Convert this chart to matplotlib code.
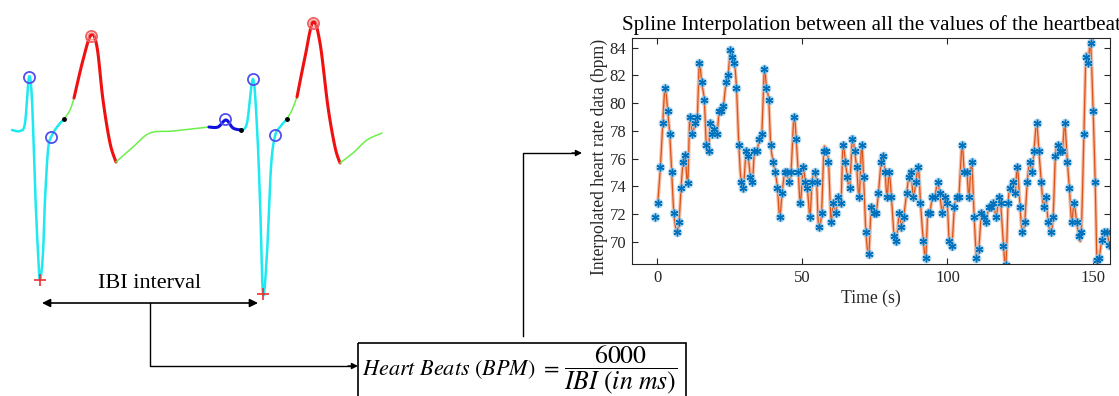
import numpy as np
import matplotlib
matplotlib.use("Agg")
import matplotlib.pyplot as plt
from matplotlib.patches import Rectangle

plt.rcParams['font.family'] = ['Liberation Serif', 'DejaVu Serif']
plt.rcParams['mathtext.fontset'] = 'stix'

# ---- heart rate data ----
time_s = [-0.7, 0.2, 1.1, 1.9, 2.7, 3.6, 4.3, 5.0, 5.7, 6.7, 7.5, 8.2, 8.9, 9.6, 10.5,
          11.2, 12.1, 13.0, 13.8, 14.5, 15.3, 16.2, 16.9, 17.7, 18.2, 18.9, 19.7, 20.6,
          21.3, 22.1, 22.8, 23.7, 24.4, 25.2, 25.9, 26.6, 27.3, 28.1, 28.9, 29.7, 30.6,
          31.3, 32.1, 32.8, 33.5, 34.4, 35.1, 36.0, 36.9, 37.6, 38.4, 39.1, 40.0, 40.7,
          41.4, 42.2, 43.0, 43.9, 44.6, 45.4, 46.1, 47.1, 47.9, 48.6, 49.3, 50.3, 51.0,
          51.7, 52.6, 53.3, 54.2, 54.9, 55.6, 56.6, 57.4, 58.1, 59.0, 59.9, 60.6, 61.5,
          62.3, 63.3, 64.0, 64.8, 65.5, 66.3, 67.2, 68.0, 68.7, 69.6, 70.4, 71.1, 71.9,
          72.9, 73.7, 74.6, 75.4, 76.2, 77.1, 77.8, 78.5, 79.2, 79.9, 80.7, 81.6, 82.4,
          83.4, 84.1, 84.9, 85.9, 86.7, 87.5, 88.2, 89.1, 90.0, 90.7, 91.7, 92.5, 93.2,
          93.9, 94.8, 95.6, 96.6, 97.3, 98.2, 99.0, 99.9, 100.6, 101.5, 102.4, 103.3,
          103.9, 105.0, 105.8, 106.7, 107.4, 108.3, 109.2, 110.0, 110.8, 111.7, 112.5,
          113.3, 114.2, 115.0, 115.8, 116.8, 117.6, 118.3, 119.3, 120.1, 120.9, 121.6,
          122.5, 123.3, 124.1, 125.0, 125.8, 126.6, 127.5, 128.3, 129.1, 129.8, 130.7,
          131.5, 132.3, 133.1, 133.9, 134.7, 135.6, 136.4, 137.2, 138.0, 138.9, 139.6,
          140.4, 141.3, 142.0, 142.8, 143.6, 144.5, 145.3, 146.1, 147.0, 147.7, 148.5,
          149.3, 150.2, 150.9, 151.5, 152.3, 153.1, 153.9, 154.8, 155.8]
heart_rate = [71.8, 72.8, 75.4, 78.6, 81.1, 79.4, 77.75, 75.0, 72.1, 70.7, 71.45, 73.9,
              75.75, 76.25, 74.25, 79.0, 77.75, 78.55, 79.0, 82.9, 81.5, 80.2, 77.0, 76.55,
              78.6, 77.75, 78.15, 77.75, 79.4, 79.4, 79.8, 81.5, 82.0, 83.8, 83.3, 82.9,
              81.1, 77.0, 74.3, 73.9, 76.55, 76.2, 74.7, 74.3, 76.55, 76.55, 77.4, 77.75,
              82.45, 81.1, 80.2, 77.0, 75.75, 75.0, 73.9, 71.8, 73.5, 75.0, 75.0, 74.3,
              75.0, 79.0, 77.4, 75.0, 72.8, 75.4, 74.3, 73.9, 71.8, 74.3, 75.0, 74.3, 71.1,
              72.1, 76.55, 76.55, 75.75, 71.45, 72.8, 72.1, 73.2, 72.8, 77.0, 75.75, 74.7,
              73.9, 77.4, 76.55, 75.4, 73.2, 77.0, 74.7, 70.7, 69.15, 72.5, 72.1, 72.1,
              73.5, 75.75, 76.2, 75.0, 73.2, 75.0, 73.2, 70.4, 70.05, 72.1, 71.1, 71.8,
              73.5, 74.7, 75.0, 73.2, 74.3, 75.4, 72.8, 70.05, 68.85, 72.1, 72.1, 73.2,
              73.2, 74.3, 73.5, 72.1, 73.2, 72.8, 70.05, 69.7, 72.5, 73.2, 73.2, 77.0,
              75.0, 75.0, 73.2, 75.75, 71.8, 68.85, 69.5, 72.1, 71.8, 71.45, 72.5, 72.5,
              72.8, 71.8, 73.2, 72.8, 69.7, 68.3, 72.8, 73.9, 74.3, 73.5, 75.4, 72.5, 70.7,
              71.45, 74.3, 75.75, 75.0, 76.55, 78.55, 76.55, 74.3, 72.5, 73.2, 71.45, 70.7,
              71.8, 76.2, 77.0, 76.55, 76.55, 78.55, 75.75, 73.9, 71.45, 72.8, 71.45, 70.4,
              70.7, 77.75, 83.35, 82.9, 84.35, 79.4, 74.3, 68.7, 68.85, 70.1, 70.7, 70.7,
              69.8]
x_ticks = [0, 50, 100, 150]
y_ticks = [70, 72, 74, 76, 78, 80, 82, 84]

# ---- schematic ECG (diagram units = pixels of the picture) ----
ecg_segments = [
    ('cyan', [12, 20, 25, 29, 32, 35, 38, 40, 43, 45, 48, 51, 57, 64],
             [130, 131, 123, 77, 100, 187, 253, 280, 253, 200, 150, 137, 127, 119]),
    ('green', [64, 70, 74], [119, 110, 98]),
    ('red', [74, 83, 91, 97, 103, 110, 116], [98, 60, 35, 47, 100, 143, 162]),
    ('green', [116, 133, 150, 173, 209], [162, 147, 133, 131, 127]),
    ('blue', [209, 218, 226, 233, 241], [127, 127, 120, 128, 130]),
    ('cyan', [241, 247, 253, 257, 260, 263, 267, 271, 275, 280, 287],
             [130, 123, 79, 127, 200, 294, 253, 167, 136, 127, 119]),
    ('green', [287, 292, 297], [119, 110, 97]),
    ('red', [297, 305, 313, 320, 328, 335, 340], [97, 57, 22, 43, 107, 147, 163]),
    ('green', [340, 353, 367, 382], [163, 153, 140, 133]),
]
seg_colors = {'cyan': '#1EE8F0', 'green': '#6CF04A', 'red': '#F01010', 'blue': '#1010E0'}
seg_widths = {'cyan': 1.8, 'green': 1.1, 'red': 2.2, 'blue': 2.2}
r_peak_x, r_peak_y = [29, 51, 225, 253, 275], [77, 137, 119, 79, 135]
t_peak_x, t_peak_y = [91, 313], [36, 23]
s_x, s_y = [40, 263], [280, 294]
dot_x, dot_y = [64, 241, 287], [119, 130, 119]


def catmull(px, py, n=14):
    p = np.column_stack([px, py]).astype(float)
    p = np.vstack([p[0], p, p[-1]])
    t = np.linspace(0, 1, n)[:, None]
    out = []
    for i in range(1, len(p) - 2):
        p0, p1, p2, p3 = p[i - 1], p[i], p[i + 1], p[i + 2]
        out.append(0.5 * (2 * p1 + (-p0 + p2) * t + (2 * p0 - 5 * p1 + 4 * p2 - p3) * t ** 2
                          + (-p0 + 3 * p1 - 3 * p2 + p3) * t ** 3))
    out = np.vstack(out)
    return out[:, 0], out[:, 1]


fig = plt.figure(figsize=(11.19, 3.96), dpi=100)

# overlay for the diagram part
ax0 = fig.add_axes([0, 0, 1, 1])
ax0.set_xlim(0, 1119)
ax0.set_ylim(396, 0)
ax0.axis('off')

for name, xs, ys in ecg_segments:
    cx, cy = catmull(xs, ys)
    ax0.plot(cx, cy, color=seg_colors[name], lw=seg_widths[name], solid_capstyle='round')
ax0.plot(r_peak_x, r_peak_y, 'o', ms=8, mfc='none', mec='#5050F0', mew=1.3)
ax0.plot(t_peak_x, t_peak_y, 'o', ms=8, mfc='none', mec='#F06060', mew=1.3)
ax0.plot(t_peak_x, t_peak_y, 'o', ms=5, mfc='none', mec='#F08080', mew=0.8)
ax0.plot(s_x, s_y, '+', ms=8, color='#F03030', mew=1.2)
ax0.plot(dot_x, dot_y, 'o', ms=2.5, color='black')

ax0.text(150, 283, 'IBI interval', fontsize=16, ha='center', va='center')
ax0.annotate('', xy=(42, 303), xytext=(258, 303),
             arrowprops=dict(arrowstyle='<|-|>', color='black', lw=1.2, mutation_scale=12,
                             shrinkA=0, shrinkB=0))
ax0.plot([150, 150, 350], [303, 366, 366], color='black', lw=1)
ax0.annotate('', xy=(358, 366), xytext=(348, 366),
             arrowprops=dict(arrowstyle='-|>', color='black', lw=1, mutation_scale=9,
                             shrinkA=0, shrinkB=0))
ax0.plot([523, 523, 574], [336, 153, 153], color='black', lw=1)
ax0.annotate('', xy=(582, 153), xytext=(572, 153),
             arrowprops=dict(arrowstyle='-|>', color='black', lw=1, mutation_scale=9,
                             shrinkA=0, shrinkB=0))

ax0.add_patch(Rectangle((358, 343), 328, 70, fill=False, ec='black', lw=1.2))
ax0.text(362, 370, r'$Heart\ Beats\ (BPM)\ =$', fontsize=16, ha='left', va='center')
ax0.text(621, 370, r'$\dfrac{6000}{IBI\ (in\ ms)}$', fontsize=18.5, ha='center', va='center')

# ---- heart rate chart ----
ax = fig.add_axes([632 / 1119, 1 - 264 / 396, 478 / 1119, 226 / 396])
lx, ly = catmull(time_s[1:], heart_rate[1:], n=8)
ax.plot(lx, ly, color='#F4A582', lw=2.6, alpha=0.7)
ax.plot(lx, ly, color='#D95319', lw=0.9)
ax.plot(time_s, heart_rate, 'o', ms=7, color='#9CCBEA', alpha=0.8, mec='none')
ax.plot(time_s, heart_rate, marker=(6, 2, 0), ls='none', ms=5.5, color='#0072BD', mew=1.0)

ax.set_xlim(-8.7, 156)
ax.set_ylim(68.4, 84.7)
ax.set_xticks(x_ticks)
ax.set_yticks(y_ticks)
ax.tick_params(direction='in', top=True, right=True, labelsize=12, colors='#262626',
               length=4, width=0.8, pad=4)
for s in ax.spines.values():
    s.set_color('#262626')
    s.set_linewidth(0.8)
ax.set_xlabel('Time (s)', fontsize=12.7, color='#262626', labelpad=3)
ax.set_ylabel('Interpolated heart rate data (bpm)', fontsize=12.7, color='#262626')
ax.yaxis.set_label_coords(-0.05, 0.473)
ax.set_title('Spline Interpolation between all the values of the heartbeat',
             fontsize=15.2, color='black', pad=6)

fig.savefig('out.png', dpi=100)
